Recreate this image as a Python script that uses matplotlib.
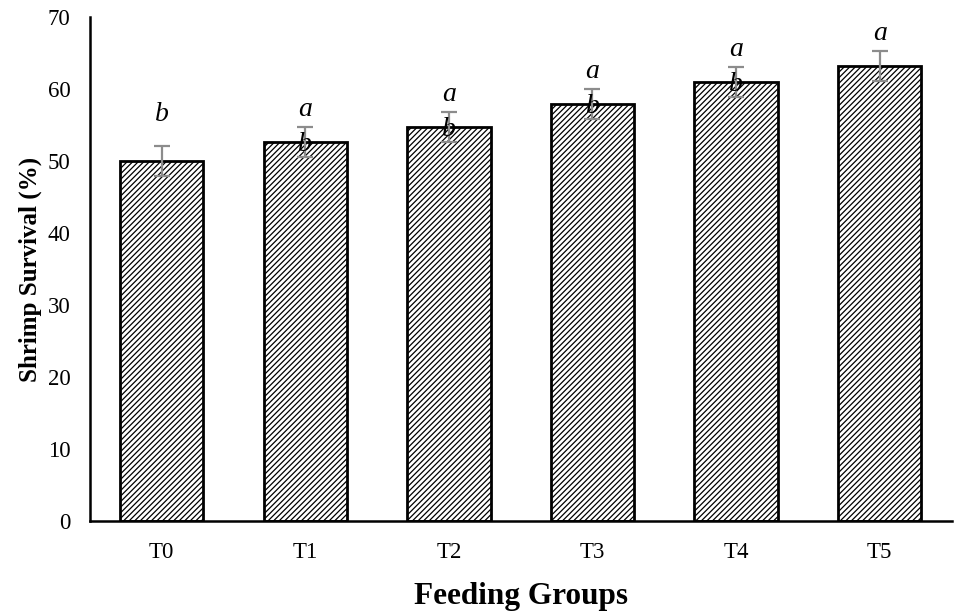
import matplotlib.pyplot as plt
import numpy as np

groups   = ["T0", "T1", "T2", "T3", "T4", "T5"]
survival = [50.0, 52.6, 54.7, 57.9, 61.0, 63.2]
sd       = [2.1, 2.1, 2.1, 2.1, 2.1, 2.1]
top_lbl  = ["b", "a", "a", "a", "a", "a"]
low_lbl  = ["", "b", "b", "b", "b", ""]

plt.rcParams["font.family"] = ["Liberation Serif", "DejaVu Serif"]
plt.rcParams["hatch.linewidth"] = 0.9

fig = plt.figure(figsize=(9.66, 6.12), dpi=100)
ax = fig.add_axes([0.093, 0.149, 0.892, 0.823])

x = np.arange(len(groups))
ax.bar(x, survival, width=0.58, color="white", edgecolor="black",
       linewidth=2, hatch="//////", zorder=2)
ax.errorbar(x, survival, yerr=sd, fmt="none", ecolor="#8c8c8c",
            elinewidth=1.6, capsize=6, capthick=1.6, zorder=3)

# significance letters: top one sits above the error bar, second one on the bar top
for i in range(len(groups)):
    off = 3.5 if not low_lbl[i] and top_lbl[i] == "b" else 1.5
    ax.text(x[i], survival[i] + sd[i] + off, top_lbl[i], ha="center", va="baseline",
            fontsize=20, style="italic", zorder=4)
    if low_lbl[i]:
        ax.text(x[i], survival[i] - 1.2, low_lbl[i], ha="center", va="baseline",
                fontsize=20, style="italic", zorder=4)

ax.set_xlim(-0.5, len(groups) - 0.5)
ax.set_ylim(0, 70)
ax.set_yticks(range(0, 71, 10))
ax.set_xticks(x)
ax.set_xticklabels(groups)
ax.tick_params(axis="both", length=0, labelsize=16.5)
ax.tick_params(axis="y", pad=14)
ax.tick_params(axis="x", pad=15)

for s in ["top", "right"]:
    ax.spines[s].set_visible(False)
for s in ["left", "bottom"]:
    ax.spines[s].set_linewidth(1.8)

ax.set_xlabel("Feeding Groups", fontsize=22.5, fontweight="bold", labelpad=14)
ax.set_ylabel("Shrimp Survival (%)", fontsize=18, fontweight="bold", labelpad=4)

fig.savefig("out.png", dpi=100)
